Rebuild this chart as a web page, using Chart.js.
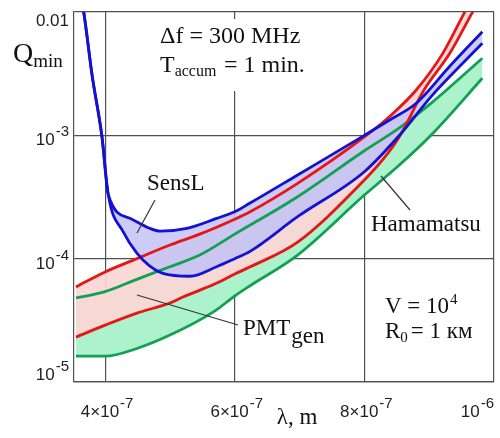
<!DOCTYPE html>
<html>
<head>
<meta charset="utf-8">
<script src="https://cdn.jsdelivr.net/npm/chart.js@4.4.1/dist/chart.umd.min.js"></script>
<style>
  body { margin: 0; background: #fff; }
  #wrap { position: relative; width: 500px; height: 438px; }
</style>
</head>
<body>
<div id="wrap"><canvas id="qChart"></canvas></div>
<script>
//------------------------------- DATA ----------------------------------------
// wavelength in metres, Q_min (log axis)

// SensL band (blue)
const lamSensLHi = [3.63e-7, 3.67e-7, 3.80e-7, 3.95e-7, 4.05e-7, 4.39e-7, 4.69e-7, 4.85e-7, 5.26e-7, 5.72e-7, 6.00e-7, 6.23e-7, 6.97e-7, 8.00e-7, 8.39e-7, 8.80e-7, 9.31e-7, 9.82e-7];
const qSensLHi   = [1.3e-2, 1.0e-2, 3.05e-3, 9.9e-4, 3.28e-4, 2.12e-4, 1.76e-4, 1.67e-4, 1.76e-4, 2.12e-4, 2.40e-4, 2.81e-4, 4.77e-4, 1.0e-3, 1.33e-3, 1.82e-3, 3.60e-3, 6.92e-3];
const lamSensLLo = [3.63e-7, 3.67e-7, 3.80e-7, 3.95e-7, 4.05e-7, 4.28e-7, 4.49e-7, 4.69e-7, 4.89e-7, 5.31e-7, 5.72e-7, 6.00e-7, 6.23e-7, 6.97e-7, 8.00e-7, 8.54e-7, 9.05e-7, 9.82e-7];
const qSensLLo   = [1.3e-2, 1.0e-2, 3.05e-3, 9.9e-4, 3.28e-4, 1.65e-4, 1.11e-4, 8.7e-5, 7.6e-5, 7.2e-5, 8.6e-5, 1.0e-4, 1.14e-4, 2.19e-4, 5.07e-4, 1.0e-3, 2.12e-3, 5.57e-3];

// PMT_gen band (red)
const lamPmtHi = [3.55e-7, 4.00e-7, 4.49e-7, 5.00e-7, 5.46e-7, 6.00e-7, 6.23e-7, 6.97e-7, 8.00e-7, 8.39e-7, 8.80e-7, 9.21e-7, 9.54e-7, 9.65e-7];
const qPmtHi   = [5.9e-5, 7.8e-5, 1.0e-4, 1.29e-4, 1.58e-4, 2.09e-4, 2.39e-4, 4.08e-4, 9.7e-4, 1.42e-3, 2.33e-3, 4.62e-3, 9.8e-3, 1.25e-2];
const lamPmtLo = [3.55e-7, 4.00e-7, 4.49e-7, 5.00e-7, 5.21e-7, 5.69e-7, 6.00e-7, 6.23e-7, 6.97e-7, 8.00e-7, 8.28e-7, 8.54e-7, 8.92e-7, 9.32e-7, 9.66e-7, 9.77e-7];
const qPmtLo   = [2.31e-5, 2.89e-5, 3.62e-5, 4.37e-5, 4.91e-5, 6.22e-5, 7.5e-5, 8.55e-5, 1.36e-4, 4.34e-4, 6.31e-4, 9.75e-4, 2.33e-3, 4.65e-3, 9.8e-3, 1.25e-2];

// Hamamatsu band (green)
const lamHamHi = [3.55e-7, 4.00e-7, 4.49e-7, 5.00e-7, 5.46e-7, 6.00e-7, 6.97e-7, 8.00e-7, 8.54e-7, 9.05e-7, 9.82e-7];
const qHamHi   = [4.8e-5, 5.4e-5, 6.8e-5, 8.6e-5, 1.07e-4, 1.58e-4, 3.18e-4, 7.5e-4, 1.15e-3, 1.86e-3, 4.22e-3];
const lamHamLo = [3.55e-7, 4.00e-7, 4.49e-7, 5.00e-7, 5.69e-7, 6.00e-7, 6.23e-7, 6.97e-7, 8.00e-7, 8.54e-7, 9.05e-7, 9.82e-7];
const qHamLo   = [1.62e-5, 1.62e-5, 1.87e-5, 2.40e-5, 3.76e-5, 4.98e-5, 6.0e-5, 1.07e-4, 3.28e-4, 5.74e-4, 1.03e-3, 2.90e-3];

// axes
const xTicks = [4e-7, 6e-7, 8e-7, 1e-6];
const xTickText = [['4\u00d710', '-7'], ['6\u00d710', '-7'], ['8\u00d710', '-7'], ['10', '-6']];
const yTicks = [1e-5, 1e-4, 1e-3, 1e-2];
const yTickText = [['10', '-5'], ['10', '-4'], ['10', '-3'], ['0.01', '']];

//------------------------------- HELPERS -------------------------------------
const serif = '"Liberation Serif", "Times New Roman", serif';
const sans = '"Liberation Sans", Arial, sans-serif';

function pts(lam, q) {
    return lam.map((l, i) => ({ x: l, y: q[i] }));
}

function put(ctx, s, x, y, size, fam) {
    ctx.font = size + 'px ' + fam;
    ctx.fillText(s, x, y);
    return ctx.measureText(s).width;
}

function band(label, lam, q, color, fillColor) {
    return {
        label: label,
        data: pts(lam, q),
        borderColor: color,
        borderWidth: 2.8,
        pointRadius: 0,
        cubicInterpolationMode: 'monotone',
        fill: fillColor ? { target: '+1' } : false,
        backgroundColor: fillColor || 'transparent'
    };
}

//------------------------------- PLUGINS -------------------------------------
const tickLabels = {
    id: 'tickLabels',
    afterDraw(chart) {
        const ctx = chart.ctx, xs = chart.scales.x, ys = chart.scales.y, area = chart.chartArea;
        ctx.save();
        ctx.fillStyle = '#222';
        ctx.textAlign = 'left';
        ctx.textBaseline = 'alphabetic';

        yTicks.forEach((v, i) => {
            const py = ys.getPixelForValue(v);
            const [base, sup] = yTickText[i];
            let bl = Math.min(py + 10, area.bottom - 2);
            bl = Math.max(bl, area.top + 14);
            ctx.font = '17px ' + sans;
            const wb = ctx.measureText(base).width;
            ctx.font = '15px ' + sans;
            const ws = sup ? ctx.measureText(sup).width + 1 : 0;
            const x0 = area.left - 5 - wb - ws;
            put(ctx, base, x0, bl, 17, sans);
            if (sup) put(ctx, sup, x0 + wb + 1, bl - 9, 15, sans);
        });

        xTicks.forEach((v, i) => {
            const px = xs.getPixelForValue(v);
            const [base, sup] = xTickText[i];
            ctx.font = '17px ' + sans;
            const wb = ctx.measureText(base).width;
            ctx.font = '15px ' + sans;
            const ws = ctx.measureText(sup).width + 1;
            const w = wb + ws;
            const x0 = Math.min(px + 2 - w / 2, area.right - w);
            put(ctx, base, x0, 417, 17, sans);
            put(ctx, sup, x0 + wb + 1, 408, 15, sans);
        });

        // axis titles
        ctx.fillStyle = '#111';
        ctx.textAlign = 'center';
        put(ctx, '\u03bb, m', 297, 424, 23, serif);
        ctx.textAlign = 'left';
        const wq = put(ctx, 'Q', 13, 62, 28, serif);
        put(ctx, 'min', 13 + wq, 67, 19, serif);
        ctx.restore();
    }
};

const notes = {
    id: 'notes',
    beforeDatasetsDraw(chart) {
        const ctx = chart.ctx;
        ctx.save();
        ctx.fillStyle = '#fff';
        ctx.fillRect(150, 19, 172, 72);
        ctx.restore();
    },
    afterDatasetsDraw(chart) {
        const ctx = chart.ctx;
        ctx.save();
        // pointer lines
        ctx.strokeStyle = '#333';
        ctx.lineWidth = 1.2;
        [[155, 200, 137, 233], [381, 176, 410, 210], [137, 295, 238, 325]].forEach(l => {
            ctx.beginPath();
            ctx.moveTo(l[0], l[1]);
            ctx.lineTo(l[2], l[3]);
            ctx.stroke();
        });

        ctx.fillStyle = '#111';
        ctx.textAlign = 'left';
        ctx.textBaseline = 'alphabetic';

        put(ctx, '\u0394f = 300 MHz', 160, 43, 24, serif);
        let w = put(ctx, 'T', 160, 72, 24, serif);
        put(ctx, 'accum', 160 + w, 76, 16, serif);
        put(ctx, '= 1 min.', 224, 72, 24, serif);

        put(ctx, 'SensL', 147, 190, 23, serif);
        put(ctx, 'Hamamatsu', 371, 231, 23, serif);

        w = put(ctx, 'PMT', 243, 335, 23, serif);
        put(ctx, 'gen', 243 + w + 1, 343, 23, serif);

        w = put(ctx, 'V = 10', 385, 313, 23, serif);
        put(ctx, '4', 385 + w + 1, 304, 15, serif);
        w = put(ctx, 'R', 385, 338, 23, serif);
        w += put(ctx, '0', 385 + w, 342, 15, serif);
        put(ctx, '= 1 \u043a\u043c', 385 + w + 3, 338, 23, serif);
        ctx.restore();
    }
};

//------------------------------- CHART ---------------------------------------
const gridColor = '#505050';

const ctx = document.getElementById('qChart').getContext('2d');
const qChart = new Chart(ctx, {
    type: 'line',
    data: {
        datasets: [
            band('SensL hi', lamSensLHi, qSensLHi, '#1212d0', 'rgba(195,195,245,0.85)'),
            band('SensL lo', lamSensLLo, qSensLLo, '#1212d0'),
            band('PMT hi', lamPmtHi, qPmtHi, '#e41616', 'rgba(252,214,214,0.92)'),
            band('PMT lo', lamPmtLo, qPmtLo, '#e41616'),
            band('Ham hi', lamHamHi, qHamHi, '#12a055', 'rgb(172,242,204)'),
            band('Ham lo', lamHamLo, qHamLo, '#12a055')
        ]
    },
    options: {
        responsive: true,
        maintainAspectRatio: false,
        animation: false,
        layout: { padding: { left: 74, right: 6, top: 12, bottom: 56 } },
        plugins: {
            legend: { display: false },
            tooltip: { enabled: false },
            filler: { propagate: false, drawTime: 'beforeDatasetsDraw' }
        },
        scales: {
            x: {
                type: 'linear',
                min: 3.52e-7,
                max: 1e-6,
                afterBuildTicks: s => { s.ticks = xTicks.map(v => ({ value: v })); },
                ticks: { display: false },
                grid: { color: gridColor, lineWidth: 1.2, drawTicks: false },
                border: { color: gridColor, width: 1.2 }
            },
            y: {
                type: 'logarithmic',
                min: 1e-5,
                max: 1e-2,
                afterBuildTicks: s => { s.ticks = yTicks.map(v => ({ value: v })); },
                ticks: { display: false },
                grid: { color: gridColor, lineWidth: 1.2, drawTicks: false },
                border: { color: gridColor, width: 1.2 }
            }
        }
    },
    plugins: [notes, tickLabels]
});
</script>
</body>
</html>
